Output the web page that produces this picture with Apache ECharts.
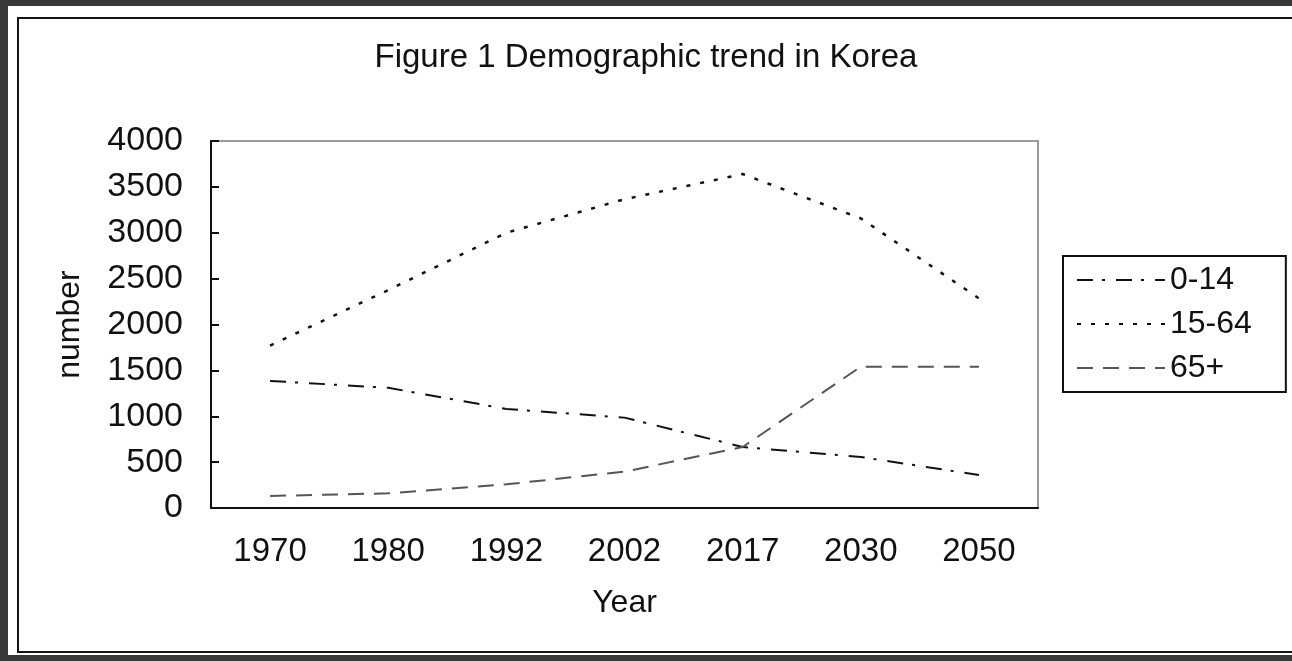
<!DOCTYPE html>
<html>
<head>
<meta charset="utf-8">
<script src="https://cdn.jsdelivr.net/npm/echarts@6/dist/echarts.min.js"></script>
<style>
  html, body { margin: 0; padding: 0; background: #383838; width: 1292px; height: 661px; overflow: hidden; }
  #paper { position: absolute; left: 8px; top: 6px; width: 1284px; height: 649px; background: #fff; }
  #border { position: absolute; left: 17px; top: 17px; width: 1300px; height: 636px; border: 2px solid #151515; box-sizing: border-box; }
  #chart { position: absolute; left: 0; top: 0; width: 1292px; height: 661px; }
</style>
</head>
<body>
<div id="paper"></div>
<div id="border"></div>
<div id="chart"></div>
<script>
const titleText = 'Figure 1 Demographic trend in Korea';
const years = ['1970', '1980', '1992', '2002', '2017', '2030', '2050'];
const age0to14 = [1385, 1310, 1080, 985, 665, 556, 360];
const age15to64 = [1770, 2375, 3000, 3365, 3640, 3157, 2285];
const age65plus = [131, 160, 258, 396, 665, 1540, 1540];
const yTicks = { min: 0, max: 4000, interval: 500 };

const FONT = '"Liberation Sans", Arial, sans-serif';
const chart = echarts.init(document.getElementById('chart'), null, { renderer: 'canvas' });

chart.setOption({
  animation: false,
  backgroundColor: 'transparent',
  title: {
    text: titleText,
    left: 'center',
    top: 36,
    textStyle: { fontFamily: FONT, fontSize: 33, fontWeight: 'normal', color: '#111' }
  },
  legend: {
    orient: 'vertical',
    left: 1063,
    top: 256,
    padding: [7, 34, 7, 13],
    borderColor: '#111',
    borderWidth: 2,
    itemWidth: 88,
    itemHeight: 14,
    itemGap: 10,
    itemStyle: { opacity: 0 },
    textStyle: { fontFamily: FONT, fontSize: 32, color: '#111', lineHeight: 34 },
    data: ['0-14', '15-64', '65+']
  },
  grid: {
    left: 211, top: 141, right: 254, bottom: 153,
    show: true, borderColor: '#9a9a9a', borderWidth: 2, backgroundColor: 'transparent',
    containLabel: false
  },
  xAxis: {
    type: 'category',
    data: years,
    boundaryGap: true,
    name: 'Year',
    nameLocation: 'middle',
    nameGap: 79,
    nameTextStyle: { fontFamily: FONT, fontSize: 32, color: '#111' },
    axisLine: { lineStyle: { color: '#111', width: 2 } },
    axisTick: { inside: true, length: 8, alignWithLabel: false, lineStyle: { color: '#111', width: 2 } },
    axisLabel: { fontFamily: FONT, fontSize: 33, color: '#111', margin: 27 },
    splitLine: { show: false }
  },
  yAxis: {
    type: 'value',
    min: yTicks.min, max: yTicks.max, interval: yTicks.interval,
    name: 'number',
    nameLocation: 'middle',
    nameGap: 125,
    nameRotate: 90,
    nameTextStyle: { fontFamily: FONT, fontSize: 32, color: '#111' },
    axisLine: { show: true, lineStyle: { color: '#111', width: 2 } },
    axisTick: { show: true, inside: true, length: 8, lineStyle: { color: '#111', width: 2 } },
    axisLabel: { fontFamily: FONT, fontSize: 34, color: '#111', margin: 28, formatter: (v) => String(v) },
    splitLine: { show: false }
  },
  series: [
    {
      name: '0-14', type: 'line', data: age0to14, symbol: 'none', smooth: false,
      lineStyle: { color: '#111', width: 2, type: [16, 9, 3, 11] },
      itemStyle: { color: '#111' }
    },
    {
      name: '15-64', type: 'line', data: age15to64, symbol: 'none', smooth: false,
      lineStyle: { color: '#111', width: 2.5, type: [4, 10] },
      itemStyle: { color: '#111' }
    },
    {
      name: '65+', type: 'line', data: age65plus, symbol: 'none', smooth: false,
      lineStyle: { color: '#555', width: 2, type: [16, 10] },
      itemStyle: { color: '#555' }
    }
  ]
});
</script>
</body>
</html>
